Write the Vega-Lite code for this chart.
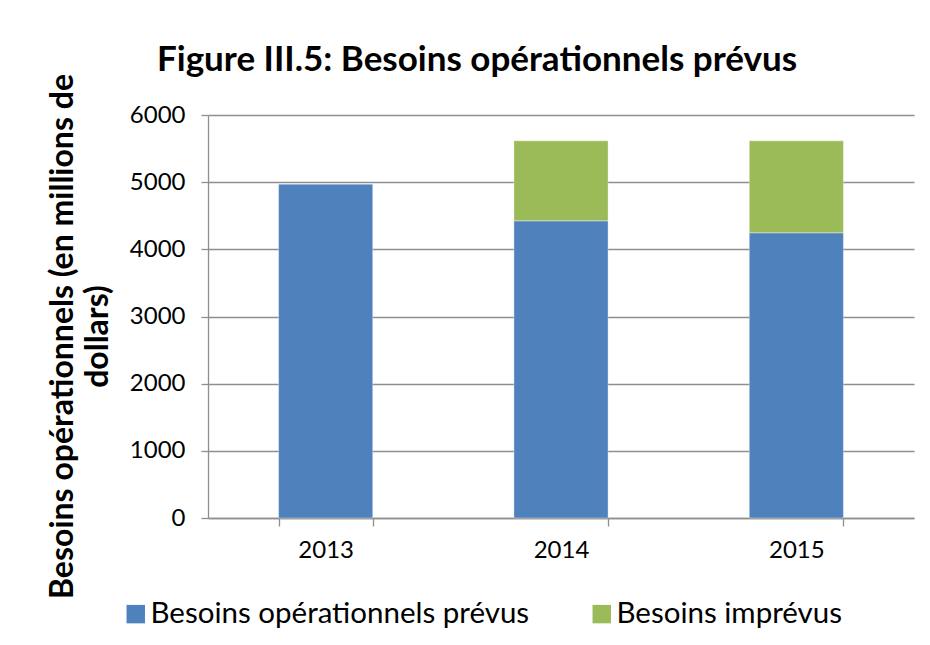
{
  "$schema": "https://vega.github.io/schema/vega-lite/v6.json",
  "autosize": {"type": "none"},
  "width": 706,
  "height": 403,
  "padding": {"left": 208, "top": 115, "right": 16, "bottom": 127},
  "background": "white",
  "title": {
    "text": "Figure III.5: Besoins opérationnels prévus",
    "font": "Lato",
    "fontSize": 35,
    "fontWeight": "bold",
    "color": "#000000",
    "anchor": "middle",
    "frame": "group",
    "dx": -84,
    "dy": 35,
    "baseline": "alphabetic",
    "offset": 3
  },
  "data": {
    "values": [
      {"annee": "2013", "serie": "Besoins opérationnels prévus", "valeur": 4970},
      {"annee": "2014", "serie": "Besoins opérationnels prévus", "valeur": 4424},
      {"annee": "2014", "serie": "Besoins imprévus", "valeur": 1191},
      {"annee": "2015", "serie": "Besoins opérationnels prévus", "valeur": 4246},
      {"annee": "2015", "serie": "Besoins imprévus", "valeur": 1369}
    ]
  },
  "mark": {"type": "bar", "stroke": "#ffffff", "strokeWidth": 0.6, "strokeOpacity": 0.6},
  "encoding": {
    "x": {
      "field": "annee",
      "type": "nominal",
      "title": null,
      "scale": {"paddingInner": 0.6, "paddingOuter": 0.3},
      "axis": {
        "labelAngle": 0,
        "tickBand": "extent",
        "tickSize": 8,
        "labelPadding": 12,
        "domainColor": "#8E8E8E",
        "tickColor": "#8E8E8E",
        "domainWidth": 1.3,
        "tickWidth": 1.3,
        "labelFont": "Lato",
        "labelFontSize": 24,
        "labelColor": "#000000"
      }
    },
    "y": {
      "field": "valeur",
      "type": "quantitative",
      "stack": "zero",
      "scale": {"domain": [0, 6000]},
      "title": ["Besoins opérationnels (en millions de", "dollars)"],
      "axis": {
        "values": [0, 1000, 2000, 3000, 4000, 5000, 6000],
        "format": "d",
        "grid": true,
        "gridColor": "#8E8E8E",
        "gridWidth": 1.3,
        "domainColor": "#8E8E8E",
        "tickColor": "#8E8E8E",
        "domainWidth": 1.3,
        "tickWidth": 1.3,
        "tickSize": 7,
        "labelPadding": 16,
        "labelFont": "Lato",
        "labelFontSize": 24,
        "labelColor": "#000000",
        "titleFont": "Lato",
        "titleFontSize": 32,
        "titleFontWeight": "bold",
        "titleColor": "#000000",
        "titleAngle": -90,
        "titleAlign": "center",
        "titleBaseline": "alphabetic",
        "titleLineHeight": 35,
        "titleX": -136,
        "titleY": 221,
        "titleLimit": 700
      }
    },
    "color": {
      "field": "serie",
      "type": "nominal",
      "scale": {
        "domain": ["Besoins opérationnels prévus", "Besoins imprévus"],
        "range": ["#4F81BD", "#9BBB59"]
      },
      "legend": {
        "title": null,
        "orient": "none",
        "direction": "horizontal",
        "legendX": -87,
        "legendY": 484,
        "symbolType": "square",
        "symbolSize": 340,
        "symbolStrokeWidth": 0,
        "labelFont": "Lato",
        "labelFontSize": 29.5,
        "labelColor": "#000000",
        "labelOffset": 0,
        "labelLimit": 600,
        "columnPadding": 57
      }
    },
    "order": {"field": "serie", "sort": "descending"}
  },
  "config": {
    "view": {"stroke": null}
  }
}
